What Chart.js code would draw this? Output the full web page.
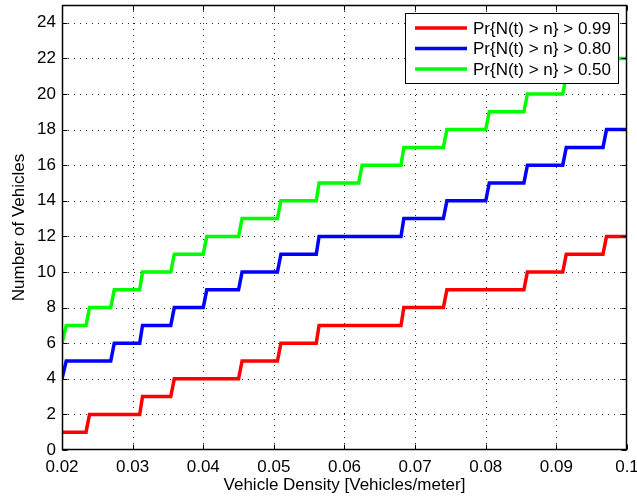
<!DOCTYPE html>
<html>
<head>
<meta charset="utf-8">
<script src="https://cdn.jsdelivr.net/npm/chart.js@4.4.1/dist/chart.umd.min.js"></script>
<style>
html,body{margin:0;padding:0;background:#fff;}
#wrap{position:relative;width:637px;height:502px;}
canvas{display:block;}
</style>
</head>
<body>
<div id="wrap"><canvas id="c" width="637" height="502"></canvas></div>
<script>
// ---- data ----
const seriesLabels = ['Pr{N(t) > n} > 0.99', 'Pr{N(t) > n} > 0.80', 'Pr{N(t) > n} > 0.50'];
const seriesColors = ['#ff0000', '#0000ff', '#00ff00'];

const redX = [0.02, 0.0234, 0.0239, 0.0310, 0.0314, 0.0354, 0.0359, 0.0450, 0.0455, 0.0505, 0.0510, 0.0560, 0.0564, 0.0680, 0.0684, 0.0740, 0.0745, 0.0854, 0.0859, 0.0909, 0.0914, 0.0966, 0.0971, 0.1];
const redY = [1, 1, 2, 2, 3, 3, 4, 4, 5, 5, 6, 6, 7, 7, 8, 8, 9, 9, 10, 10, 11, 11, 12, 12];

const blueX = [0.02, 0.0206, 0.0269, 0.0274, 0.0310, 0.0314, 0.0354, 0.0359, 0.0400, 0.0405, 0.0450, 0.0455, 0.0505, 0.0510, 0.0560, 0.0564, 0.0680, 0.0684, 0.0740, 0.0745, 0.0800, 0.0805, 0.0854, 0.0859, 0.0909, 0.0914, 0.0966, 0.0971, 0.1];
const blueY = [4, 5, 5, 6, 6, 7, 7, 8, 8, 9, 9, 10, 10, 11, 11, 12, 12, 13, 13, 14, 14, 15, 15, 16, 16, 17, 17, 18, 18];

const greenX = [0.02, 0.0206, 0.0234, 0.0239, 0.0269, 0.0274, 0.0310, 0.0314, 0.0354, 0.0359, 0.0400, 0.0405, 0.0450, 0.0455, 0.0505, 0.0510, 0.0560, 0.0564, 0.0620, 0.0625, 0.0680, 0.0684, 0.0740, 0.0745, 0.0800, 0.0805, 0.0854, 0.0859, 0.0909, 0.0914, 0.0966, 0.0971, 0.1];
const greenY = [6, 7, 7, 8, 8, 9, 9, 10, 10, 11, 11, 12, 12, 13, 13, 14, 14, 15, 15, 16, 16, 17, 17, 18, 18, 19, 19, 20, 20, 21, 21, 22, 22];

const xTickValues = [0.02, 0.03, 0.04, 0.05, 0.06, 0.07, 0.08, 0.09, 0.1];
const xTickLabels = ['0.02', '0.03', '0.04', '0.05', '0.06', '0.07', '0.08', '0.09', '0.1'];
const yTickValues = [0, 2, 4, 6, 8, 10, 12, 14, 16, 18, 20, 22, 24];
const yTickLabels = ['0', '2', '4', '6', '8', '10', '12', '14', '16', '18', '20', '22', '24'];
const xTitle = 'Vehicle Density [Vehicles/meter]';
const yTitle = 'Number of Vehicles';

// ---- build ----
function pts(xs, ys) { return xs.map((x, i) => ({x: x, y: ys[i]})); }
const FONT = 'Liberation Sans, Arial, Helvetica, sans-serif';
const FS = 17;

const seriesData = [pts(redX, redY), pts(blueX, blueY), pts(greenX, greenY)];

const matlabAxes = {
  id: 'matlabAxes',
  beforeDatasetsDraw(chart) {
    const {ctx, chartArea: a, scales: {x, y}} = chart;
    ctx.save();
    ctx.strokeStyle = 'rgba(0,0,0,0.85)';
    ctx.lineWidth = 1;
    ctx.setLineDash([1, 5]);
    xTickValues.forEach(v => {
      const px = Math.round(x.getPixelForValue(v)) + 0.5;
      if (px < a.left + 2 || px > a.right - 2) return;
      ctx.beginPath(); ctx.moveTo(px, a.bottom); ctx.lineTo(px, a.top); ctx.stroke();
    });
    yTickValues.forEach(v => {
      const py = Math.round(y.getPixelForValue(v)) + 0.5;
      if (py < a.top + 2 || py > a.bottom - 2) return;
      ctx.beginPath(); ctx.moveTo(a.left, py); ctx.lineTo(a.right, py); ctx.stroke();
    });
    ctx.restore();
  },
  afterDatasetsDraw(chart) {
    const {ctx, chartArea: a, scales: {x, y}} = chart;
    ctx.save();
    ctx.strokeStyle = '#000';
    ctx.lineWidth = 1;
    ctx.setLineDash([]);
    const L = Math.round(a.left) + 0.5, R = Math.round(a.right) - 0.5;
    const T = Math.round(a.top) + 0.5, B = Math.round(a.bottom) - 0.5;
    const tl = 5;
    xTickValues.forEach(v => {
      const px = Math.round(x.getPixelForValue(v)) + 0.5;
      ctx.beginPath();
      ctx.moveTo(px, B); ctx.lineTo(px, B - tl);
      ctx.moveTo(px, T); ctx.lineTo(px, T + tl);
      ctx.stroke();
    });
    yTickValues.forEach(v => {
      const py = Math.round(y.getPixelForValue(v)) + 0.5;
      ctx.beginPath();
      ctx.moveTo(L, py); ctx.lineTo(L + tl, py);
      ctx.moveTo(R, py); ctx.lineTo(R - tl, py);
      ctx.stroke();
    });
    ctx.lineWidth = 1.5;
    ctx.strokeRect(L, T, R - L, B - T);
    ctx.restore();
  },
  afterDraw(chart) {
    const {ctx, chartArea: a} = chart;
    ctx.save();
    const bx = 405.5, by = 13.5, bw = 213, bh = 70;
    ctx.fillStyle = '#fff';
    ctx.fillRect(bx, by, bw, bh);
    ctx.strokeStyle = '#000';
    ctx.lineWidth = 1;
    ctx.strokeRect(bx, by, bw, bh);
    ctx.font = FS + 'px ' + FONT;
    ctx.textBaseline = 'middle';
    ctx.textAlign = 'left';
    const rowY = [28, 48.5, 69];
    chart.data.datasets.forEach((ds, i) => {
      ctx.strokeStyle = ds.borderColor;
      ctx.lineWidth = 3.5;
      ctx.beginPath();
      ctx.moveTo(415, rowY[i]); ctx.lineTo(467, rowY[i]);
      ctx.stroke();
      ctx.fillStyle = '#000';
      ctx.fillText(ds.label, 473, rowY[i] + 1);
    });
    ctx.restore();
  }
};

new Chart(document.getElementById('c'), {
  type: 'line',
  data: {
    datasets: seriesData.map((d, i) => ({
      label: seriesLabels[i],
      data: d,
      borderColor: seriesColors[i],
      backgroundColor: seriesColors[i],
      borderWidth: 3.5,
      pointRadius: 0,
      tension: 0,
      fill: false,
      borderJoinStyle: 'miter',
      borderCapStyle: 'butt'
    }))
  },
  options: {
    responsive: false,
    animation: false,
    devicePixelRatio: 1,
    layout: {padding: {left: 0, right: 10, top: 5, bottom: 0}},
    plugins: {legend: {display: false}, tooltip: {enabled: false}},
    scales: {
      x: {
        type: 'linear',
        min: 0.02, max: 0.1,
        afterBuildTicks(s) { s.ticks = xTickValues.map(v => ({value: v})); },
        afterFit(s) { s.height = 52; s.paddingLeft = 0; s.paddingRight = 0; },
        grid: {display: false, drawTicks: false},
        border: {display: false},
        ticks: {
          padding: 7,
          color: '#000',
          font: {family: FONT, size: FS},
          maxRotation: 0, autoSkip: false,
          callback: (v, i) => xTickLabels[i]
        },
        title: {display: true, text: xTitle, color: '#000', font: {family: FONT, size: FS}, padding: {top: 0, bottom: 6}}
      },
      y: {
        type: 'linear',
        min: 0, max: 25,
        afterBuildTicks(s) { s.ticks = yTickValues.map(v => ({value: v})); },
        afterFit(s) { s.width = 62; s.paddingTop = 0; s.paddingBottom = 0; },
        grid: {display: false, drawTicks: false},
        border: {display: false},
        ticks: {
          padding: 6,
          color: '#000',
          font: {family: FONT, size: FS},
          autoSkip: false,
          callback: (v, i) => yTickLabels[i]
        },
        title: {display: true, text: yTitle, color: '#000', font: {family: FONT, size: FS}, padding: {top: 9, bottom: 0}}
      }
    }
  },
  plugins: [matlabAxes]
});
</script>
</body>
</html>
